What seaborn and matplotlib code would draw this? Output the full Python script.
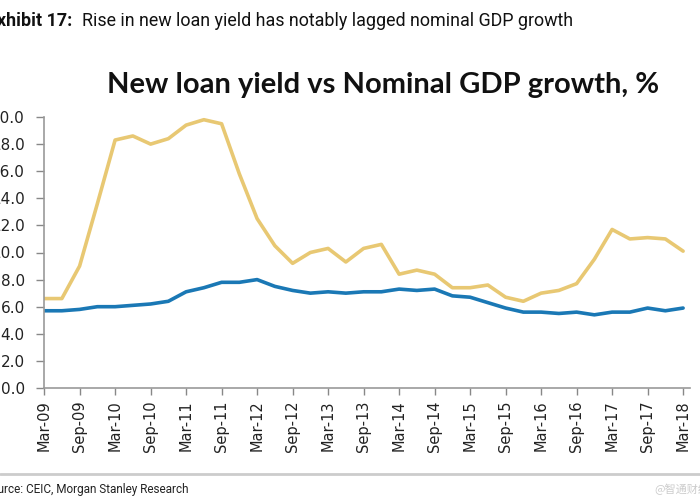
import numpy as np
import pandas as pd
import seaborn as sns
import matplotlib.pyplot as plt
from matplotlib.lines import Line2D

# quarterly data, Mar-09 .. Mar-18
quarters = []
for yr in range(9, 19):
    for m in ["Mar", "Jun", "Sep", "Dec"]:
        quarters.append(f"{m}-{yr:02d}")
quarters = quarters[:37]

nominal_gdp = [6.6, 6.6, 9.0, 13.6, 18.3, 18.6, 18.0, 18.4, 19.4, 19.8, 19.5, 15.8,
               12.5, 10.5, 9.2, 10.0, 10.3, 9.3, 10.3, 10.6, 8.4, 8.7, 8.4, 7.4,
               7.4, 7.6, 6.7, 6.4, 7.0, 7.2, 7.7, 9.5, 11.7, 11.0, 11.1, 11.0, 10.1]
loan_yield = [5.7, 5.7, 5.8, 6.0, 6.0, 6.1, 6.2, 6.4, 7.1, 7.4, 7.8, 7.8,
              8.0, 7.5, 7.2, 7.0, 7.1, 7.0, 7.1, 7.1, 7.3, 7.2, 7.3, 6.8,
              6.7, 6.3, 5.9, 5.6, 5.6, 5.5, 5.6, 5.4, 5.6, 5.6, 5.9, 5.7, 5.9]
yticks = [0, 2, 4, 6, 8, 10, 12, 14, 16, 18, 20]

df = pd.DataFrame({
    "q": list(range(len(quarters))) * 2,
    "value": nominal_gdp + loan_yield,
    "series": ["Nominal GDP growth"] * len(quarters) + ["New loan yield"] * len(quarters),
})

sns.set_style("ticks")
plt.rcParams["font.family"] = ["DejaVu Sans"]

fig = plt.figure(figsize=(7, 5), dpi=100)
ax = fig.add_axes([0.063, 0.224, 0.923, 0.542])

sns.lineplot(data=df, x="q", y="value", hue="series",
             palette={"Nominal GDP growth": "#E8C873", "New loan yield": "#1A78B5"},
             linewidth=2.6, legend=False, ax=ax)

ax.set_xlim(0, 36.4)
ax.set_ylim(0, 20)
ax.set_yticks(yticks)
ax.set_yticklabels([f"{v:.1f}" for v in yticks], fontsize=11, color="#222222")
ax.set_xticks(range(0, len(quarters), 2))
ax.set_xticklabels(quarters[::2], rotation=90, fontsize=10.5, color="#222222")
ax.tick_params(axis="y", length=6, width=1, color="#888888", pad=8)
ax.tick_params(axis="x", length=5, width=1, color="#888888", pad=4)
ax.set_xlabel("")
ax.set_ylabel("")
sns.despine(ax=ax)
for s in ["left", "bottom"]:
    ax.spines[s].set_color("#999999")
    ax.spines[s].set_linewidth(1.2)

fig.text(0.547, 0.83, "New loan yield vs Nominal GDP growth, %", ha="center", va="center",
         fontsize=21, fontweight="bold", family="Lato", color="#111111")

fig.text(-0.018, 0.958, "Exhibit 17:", ha="left", va="center", fontsize=12.9,
         fontweight="bold", family="Roboto", color="#111111")
fig.text(0.117, 0.958, "Rise in new loan yield has notably lagged nominal GDP growth",
         ha="left", va="center", fontsize=12.9, family="Roboto", color="#111111")

fig.add_artist(Line2D([0, 1], [0.052, 0.052], color="#cccccc", linewidth=2))
fig.text(-0.023, 0.022, "Source: CEIC, Morgan Stanley Research", ha="left", va="center",
         fontsize=8.5, family="Roboto", color="#222222")
fig.text(0.935, 0.022, "@智通财经", ha="left", va="center", fontsize=8,
         family=["Noto Sans CJK SC", "DejaVu Sans"], color="#cccccc")

fig.savefig("out.png", dpi=100)
